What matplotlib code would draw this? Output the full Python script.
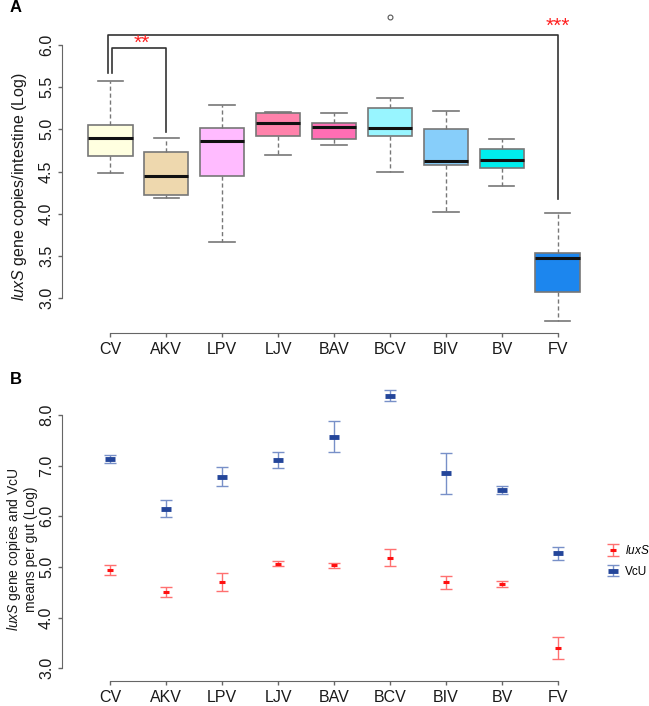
import matplotlib
matplotlib.use("Agg")
from matplotlib import pyplot as plt

plt.rcParams['font.family'] = ['Liberation Sans', 'DejaVu Sans']
plt.rcParams['mathtext.fontset'] = 'custom'
plt.rcParams['mathtext.it'] = 'Liberation Sans:italic'
plt.rcParams['mathtext.rm'] = 'Liberation Sans'

groups = ['CV', 'AKV', 'LPV', 'LJV', 'BAV', 'BCV', 'BIV', 'BV', 'FV']
colors = ['#FFFFE0', '#EED8AE', '#FFBBFF', '#FF82AB', '#FF6EB4',
          '#98F5FF', '#87CEFA', '#00EEEE', '#1C86EE']

# panel A box statistics (log copies)
whislo = [4.48, 4.19, 3.66, 4.70, 4.81, 4.49, 4.02, 4.33, 2.73]
q1 = [4.69, 4.22, 4.45, 4.92, 4.88, 4.92, 4.58, 4.54, 3.07]
med = [4.90, 4.45, 4.86, 5.07, 5.03, 5.02, 4.63, 4.64, 3.47]
q3 = [5.05, 4.73, 5.02, 5.19, 5.08, 5.25, 5.00, 4.77, 3.54]
whishi = [5.57, 4.90, 5.29, 5.20, 5.19, 5.37, 5.22, 4.88, 4.01]
fliers = [[], [], [], [], [], [6.33], [], [], []]

# panel B means and error bars
vcu_mean = [7.13, 6.15, 6.78, 7.11, 7.57, 8.38, 6.85, 6.51, 5.27]
vcu_hi = [7.22, 6.32, 6.97, 7.27, 7.89, 8.49, 7.24, 6.59, 5.39]
vcu_lo = [7.05, 5.98, 6.59, 6.95, 7.26, 8.27, 6.44, 6.44, 5.14]
lux_mean = [4.94, 4.51, 4.70, 5.06, 5.03, 5.17, 4.71, 4.67, 3.40]
lux_hi = [5.03, 4.61, 4.88, 5.11, 5.07, 5.35, 4.83, 4.72, 3.61]
lux_lo = [4.84, 4.40, 4.52, 5.02, 4.98, 5.01, 4.57, 4.61, 3.18]

W, H = 649, 706
fig = plt.figure(figsize=(W / 100, H / 100), dpi=100)
axc = '#666666'
pos = list(range(1, len(groups) + 1))


def style(ax, ylo, yhi):
    for s in ['top', 'right']:
        ax.spines[s].set_visible(False)
    for s in ['left', 'bottom']:
        ax.spines[s].set_color(axc)
    ax.spines['left'].set_bounds(ylo, yhi)
    ax.spines['bottom'].set_bounds(1, len(groups))
    ax.set_xlim(0.14, len(groups) + 0.86)
    ax.set_xticks(pos)
    ax.set_xticklabels(groups)
    ax.tick_params(axis='both', colors=axc, labelcolor='#1a1a1a',
                   labelsize=11.5, length=3.2, width=1)
    ax.tick_params(axis='x', pad=3.5)
    ax.tick_params(axis='y', pad=2.5)
    for t in ax.get_yticklabels():
        t.set_rotation(90)
        t.set_va('center')


# ---- panel A
axA = fig.add_axes([62 / W, 1 - 333 / H, 544 / W, 328 / H])
stats = []
for i in range(len(groups)):
    stats.append(dict(whislo=whislo[i], q1=q1[i], med=med[i], q3=q3[i],
                      whishi=whishi[i], fliers=fliers[i]))
bp = axA.bxp(stats, positions=pos, widths=0.8, capwidths=0.45,
             patch_artist=True, showfliers=True,
             boxprops=dict(edgecolor='#777777', linewidth=1.2),
             medianprops=dict(color='#111111', linewidth=2.2),
             whiskerprops=dict(color='#777777', linestyle=(0, (3, 2)), linewidth=1),
             capprops=dict(color='#777777', linewidth=1.2),
             flierprops=dict(marker='o', markersize=3.5, markerfacecolor='none',
                             markeredgecolor='#555555', markeredgewidth=0.8))
for patch, c in zip(bp['boxes'], colors):
    patch.set_facecolor(c)
axA.set_ylim(2.586, 6.474)
axA.set_yticks([3.0, 3.5, 4.0, 4.5, 5.0, 5.5, 6.0])
axA.set_yticklabels(['3.0', '3.5', '4.0', '4.5', '5.0', '5.5', '6.0'])
style(axA, 3.0, 6.0)

# significance brackets
bc = '#333333'
axA.plot([0.96, 0.96, 9.0, 9.0], [5.67, 6.12, 6.12, 4.18], color=bc, lw=1.2, clip_on=False)
axA.plot([1.04, 1.04, 2.0, 2.0], [5.67, 5.97, 5.97, 4.97], color=bc, lw=1.2, clip_on=False)
axA.text(1.57, 6.02, '**', color='#FF2020', fontsize=15, ha='center', va='center')
axA.text(9.0, 6.22, '***', color='#FF2020', fontsize=15, ha='center', va='center')

fig.text(20 / W, 1 - 187 / H, r'$\it{luxS}$ gene copies/intestine (Log)',
         rotation=90, ha='center', va='center', fontsize=11.5, color='#1a1a1a')
fig.text(10 / W, 1 - 8 / H, 'A', fontsize=12, fontweight='bold', ha='left', va='center')

# ---- panel B
axB = fig.add_axes([62 / W, 25 / H, 544 / W, 303 / H])
e1 = axB.errorbar(pos, lux_mean, yerr=[[m - l for m, l in zip(lux_mean, lux_lo)],
                                        [h - m for m, h in zip(lux_mean, lux_hi)]],
                  fmt='none', ecolor='#FF7070', elinewidth=1, capsize=4.5, capthick=1)
m1, = axB.plot(pos, lux_mean, linestyle='none', marker='_', color='#FF1010',
               markersize=5, markeredgewidth=2.2)
e2 = axB.errorbar(pos, vcu_mean, yerr=[[m - l for m, l in zip(vcu_mean, vcu_lo)],
                                        [h - m for m, h in zip(vcu_mean, vcu_hi)]],
                  fmt='none', ecolor='#7890C8', elinewidth=1, capsize=4.5, capthick=1)
m2, = axB.plot(pos, vcu_mean, linestyle='none', marker='_', color='#24469A',
               markersize=6.5, markeredgewidth=3.5)
axB.set_ylim(2.75, 8.73)
axB.set_yticks([3.0, 4.0, 5.0, 6.0, 7.0, 8.0])
axB.set_yticklabels(['3.0', '4.0', '5.0', '6.0', '7.0', '8.0'])
style(axB, 3.0, 8.0)

fig.text(21.5 / W, 1 - 549 / H, r'$\it{luxS}$ gene copies and VcU' + '\n' + 'means per gut (Log)',
         rotation=90, ha='center', va='center', fontsize=10, color='#1a1a1a',
         linespacing=1.15)
fig.text(10 / W, 1 - 380 / H, 'B', fontsize=12, fontweight='bold', ha='left', va='center')

fig.legend(handles=[(e1, m1), (e2, m2)], labels=[r'$\it{luxS}$', 'VcU'],
           loc='center left', frameon=False, borderaxespad=0, borderpad=0,
           bbox_to_anchor=(607 / W, 1 - 561 / H), fontsize=8.5,
           handlelength=1.1, handletextpad=0.4, labelspacing=0.7)

fig.savefig('out.png', dpi=100)
